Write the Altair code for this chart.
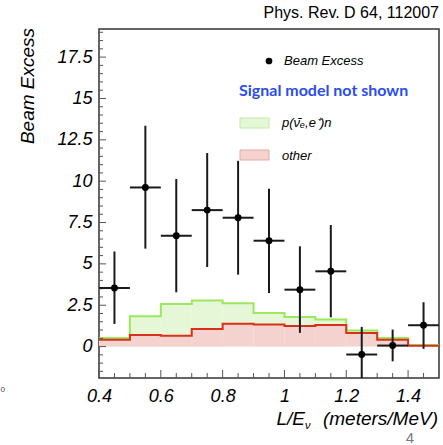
import altair as alt
import pandas as pd

# ---------------- data ----------------
bin_lo = [0.4, 0.5, 0.6, 0.7, 0.8, 0.9, 1.0, 1.1, 1.2, 1.3, 1.4]
bin_hi = [0.5, 0.6, 0.7, 0.8, 0.9, 1.0, 1.1, 1.2, 1.3, 1.4, 1.5]
nue_total = [0.52, 1.83, 2.57, 2.79, 2.62, 2.03, 1.79, 1.63, 0.97, 0.52, 0.10]   # p(nubar_e,e+)n stacked on top of other
other = [0.42, 0.70, 0.66, 1.07, 1.38, 1.33, 1.25, 1.30, 0.82, 0.42, 0.05]

x_center = [0.45, 0.55, 0.65, 0.75, 0.85, 0.95, 1.05, 1.15, 1.25, 1.35, 1.45]
excess = [3.54, 9.62, 6.70, 8.25, 7.79, 6.40, 3.44, 4.55, -0.48, 0.06, 1.29]
err_hi = [5.75, 13.35, 10.13, 11.70, 11.23, 9.54, 6.06, 7.35, 1.19, 1.03, 2.68]
err_lo = [1.37, 5.92, 3.28, 4.81, 4.35, 3.24, 0.83, 1.77, -2.15, -0.89, -0.14]
half_width = 0.05

y_major = [0, 2.5, 5, 7.5, 10, 12.5, 15, 17.5]
y_minor = [v * 0.5 for v in range(-3, 39) if (v * 0.5) not in y_major]
x_major = [0.4, 0.6, 0.8, 1.0, 1.2, 1.4]
x_minor = [round(0.4 + i * 0.05, 2) for i in range(0, 22) if round(0.4 + i * 0.05, 2) not in x_major]

# ---------------- tables ----------------
hist = pd.DataFrame({"lo": bin_lo, "hi": bin_hi, "green": nue_total, "red": other})
steps = pd.DataFrame({"edge": bin_lo + [bin_hi[-1]],
                      "green": nue_total + [nue_total[-1]],
                      "red": other + [other[-1]]})
pts = pd.DataFrame({"x": x_center, "y": excess, "lo": err_lo, "hi": err_hi,
                    "xlo": [c - half_width for c in x_center],
                    "xhi": [c + half_width for c in x_center]})

W, H = 340, 349
FONT = "Liberation Sans"

xscale = alt.Scale(domain=[0.4, 1.5], nice=False, zero=False)
yscale = alt.Scale(domain=[-1.9, 19.2], nice=False, zero=False)
xaxis = alt.Axis(values=x_major, title=None, ticks=False, domain=False, grid=False,
                 labelFont=FONT, labelFontStyle="italic", labelFontSize=18,
                 labelColor="black", labelPadding=9, format=".3~g",
                 labelFlush=False, labelOverlap=False, labelBound=False)
yaxis = alt.Axis(values=y_major, title=None, ticks=False, domain=False, grid=False,
                 labelFont=FONT, labelFontStyle="italic", labelFontSize=18,
                 labelColor="black", labelPadding=7, format=".3~g",
                 labelFlush=False, labelOverlap=False, labelBound=False)

GREEN_FILL = "#e5f7d6"
GREEN_LINE = "#9be85c"
RED_FILL = "#f4d2cf"
RED_LINE = "#d9301c"

X = lambda f: alt.X(f, type="quantitative", scale=xscale, axis=xaxis)
Y = lambda f: alt.Y(f, type="quantitative", scale=yscale, axis=yaxis)

green_rect = alt.Chart(hist).mark_rect(color=GREEN_FILL).encode(
    x=X("lo"), x2="hi", y=Y("green"), y2=alt.datum(0))
red_rect = alt.Chart(hist).mark_rect(color=RED_FILL).encode(
    x=X("lo"), x2="hi", y=Y("red"), y2=alt.datum(0))
green_line = alt.Chart(steps).mark_line(interpolate="step-after", color=GREEN_LINE,
                                        strokeWidth=2).encode(x=X("edge"), y=Y("green"))
red_line = alt.Chart(steps).mark_line(interpolate="step-after", color=RED_LINE,
                                      strokeWidth=2).encode(x=X("edge"), y=Y("red"))

vbar = alt.Chart(pts).mark_rule(color="#1a1a1a", strokeWidth=2, clip=True).encode(
    x=X("x"), y=Y("lo"), y2="hi")
hbar = alt.Chart(pts).mark_rule(color="#1a1a1a", strokeWidth=2).encode(
    x=X("xlo"), x2="xhi", y=Y("y"))
dots = alt.Chart(pts).mark_circle(color="black", size=48, opacity=1).encode(
    x=X("x"), y=Y("y"))

# inward ticks
TICK = "#555555"
ymaj_t = alt.Chart(pd.DataFrame({"v": y_major})).mark_rule(color=TICK, strokeWidth=1).encode(
    y=Y("v"), x=alt.value(0), x2=alt.value(7))
ymin_t = alt.Chart(pd.DataFrame({"v": y_minor})).mark_rule(color=TICK, strokeWidth=1).encode(
    y=Y("v"), x=alt.value(0), x2=alt.value(4))
xmaj_t = alt.Chart(pd.DataFrame({"v": x_major})).mark_rule(color=TICK, strokeWidth=1).encode(
    x=X("v"), y=alt.value(H), y2=alt.value(H - 8))
xmin_t = alt.Chart(pd.DataFrame({"v": x_minor})).mark_rule(color=TICK, strokeWidth=1).encode(
    x=X("v"), y=alt.value(H), y2=alt.value(H - 5))

def txt(text, x, y, size, **kw):
    return alt.Chart(pd.DataFrame({"t": [text]})).mark_text(
        fontSize=size, font=kw.pop("font", FONT), **kw).encode(
        text="t:N", x=alt.value(x), y=alt.value(y))

one = pd.DataFrame({"a": [0]})
leg_dot = alt.Chart(one).mark_circle(color="black", size=45, opacity=1).encode(
    x=alt.value(170), y=alt.value(32))
leg_green = alt.Chart(one).mark_rect(fill=GREEN_FILL, stroke="#c3eaa6", strokeWidth=1).encode(
    x=alt.value(141), x2=alt.value(170), y=alt.value(89), y2=alt.value(99))
leg_red = alt.Chart(one).mark_rect(fill=RED_FILL, stroke="#e6a9a3", strokeWidth=1).encode(
    x=alt.value(141), x2=alt.value(170), y=alt.value(121), y2=alt.value(131))

texts = [
    txt("Phys. Rev. D 64, 112007", W, -11, 16, align="right", baseline="alphabetic", color="black"),
    txt("Beam Excess", -71, 57, 19, angle=270, align="center", baseline="middle",
        fontStyle="italic", color="black"),
    txt("Beam Excess", 185, 32, 13, align="left", baseline="middle", fontStyle="italic", color="black"),
    txt("Signal model not shown", 140, 62, 16, align="left", baseline="middle",
        font="Lato", fontWeight="bold", color="#2b4cf0"),
    txt("p(\u03bd\u0304\u2091,e\u207a)n", 183, 94, 13, align="left", baseline="middle",
        fontStyle="italic", color="black"),
    txt("other", 183, 127, 13, align="left", baseline="middle", fontStyle="italic", color="black"),
    txt("L/E", 206, 396, 19, align="right", baseline="alphabetic", fontStyle="italic", color="black"),
    txt("\u03bd", 206, 400, 11, align="left", baseline="alphabetic", fontStyle="italic", color="black"),
    txt("(meters/MeV)", 339, 396, 19, align="right", baseline="alphabetic", fontStyle="italic", color="black"),
    txt("4", 311, 414, 15, align="center", baseline="alphabetic", color="#7a7a7a"),
    txt("0", -94, 361, 8, align="right", baseline="middle", color="#444444"),
]

chart = alt.layer(
    green_rect, red_rect, green_line, red_line,
    ymaj_t, ymin_t, xmaj_t, xmin_t,
    vbar, hbar, dots,
    leg_dot, leg_green, leg_red, *texts
).properties(
    width=W, height=H,
    autosize=alt.AutoSizeParams(type="none"),
    padding={"left": 99, "top": 29, "right": 4, "bottom": 67},
    background="white",
).configure_view(stroke="#333333", strokeWidth=1.5)

chart.save("out.html", embed_options={"renderer": "svg", "actions": False})
